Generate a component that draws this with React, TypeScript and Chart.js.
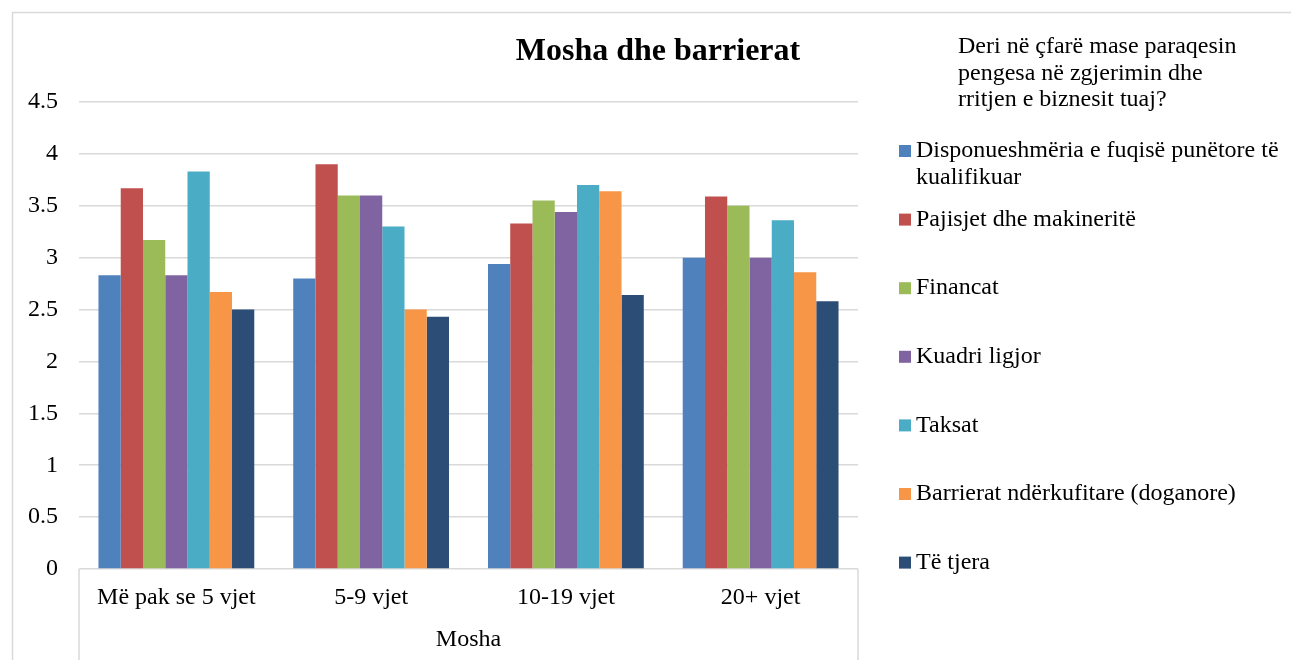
import React, { useEffect, useRef } from "react";
import { Chart, registerables } from "chart.js";

Chart.register(...registerables);

const categories = ["Më pak se 5 vjet", "5-9 vjet", "10-19 vjet", "20+ vjet"];
const seriesNames = [
  "Disponueshmëria e fuqisë punëtore të kualifikuar",
  "Pajisjet dhe makineritë",
  "Financat",
  "Kuadri ligjor",
  "Taksat",
  "Barrierat ndërkufitare (doganore)",
  "Të tjera",
];
const disponueshmeria = [2.83, 2.8, 2.94, 3.0];
const pajisjet = [3.67, 3.9, 3.33, 3.59];
const financat = [3.17, 3.6, 3.55, 3.5];
const kuadri = [2.83, 3.6, 3.44, 3.0];
const taksat = [3.83, 3.3, 3.7, 3.36];
const barrierat = [2.67, 2.5, 3.64, 2.86];
const teTjera = [2.5, 2.43, 2.64, 2.58];
const seriesValues = [disponueshmeria, pajisjet, financat, kuadri, taksat, barrierat, teTjera];
const seriesColors = ["#4F81BD", "#C0504D", "#9BBB59", "#8064A2", "#4BACC6", "#F79646", "#2C4D75"];
const yTicks = [0, 0.5, 1, 1.5, 2, 2.5, 3, 3.5, 4, 4.5];
const chartTitle = "Mosha dhe barrierat";
const axisTitle = "Mosha";
const legendTitle = ["Deri në çfarë mase paraqesin", "pengesa në zgjerimin dhe", "rritjen e biznesit tuaj?"];

const FONT = "'Liberation Serif', 'Times New Roman', serif";

const decorPlugin = {
  id: "decor",
  beforeDraw(chart: any) {
    const ctx = chart.ctx;
    ctx.save();
    ctx.strokeStyle = "#d9d9d9";
    ctx.lineWidth = 1.5;
    ctx.beginPath();
    ctx.moveTo(12.5, 700);
    ctx.lineTo(12.5, 12.5);
    ctx.lineTo(1400, 12.5);
    ctx.stroke();
    ctx.restore();
  },
  afterDraw(chart: any) {
    const ctx = chart.ctx;
    const area = chart.chartArea;
    ctx.save();
    ctx.strokeStyle = "#d9d9d9";
    ctx.lineWidth = 1.5;
    ctx.beginPath();
    ctx.moveTo(area.left, area.bottom);
    ctx.lineTo(area.left, chart.height);
    ctx.moveTo(area.right, area.bottom);
    ctx.lineTo(area.right, chart.height);
    ctx.stroke();

    ctx.fillStyle = "#000";
    ctx.font = `bold 32px ${FONT}`;
    ctx.textAlign = "center";
    ctx.textBaseline = "middle";
    ctx.fillText(chartTitle, 658, 52);

    ctx.font = `24px ${FONT}`;
    ctx.textAlign = "left";
    legendTitle.forEach((line, i) => {
      ctx.fillText(line, 958, 47 + i * 26.5);
    });

    const maxW = 372;
    chart.data.datasets.forEach((ds: any, i: number) => {
      const y = 151 + i * 68.6;
      ctx.fillStyle = ds.backgroundColor;
      ctx.fillRect(899, y - 6, 12, 12);
      ctx.fillStyle = "#000";
      const words = String(ds.label).split(" ");
      const lines: string[] = [];
      let cur = "";
      words.forEach((w) => {
        const test = cur ? cur + " " + w : w;
        if (ctx.measureText(test).width > maxW && cur) {
          lines.push(cur);
          cur = w;
        } else cur = test;
      });
      if (cur) lines.push(cur);
      lines.forEach((l, j) => ctx.fillText(l, 916, y + j * 27));
    });
    ctx.restore();
  },
};

export default function App() {
  const ref = useRef<HTMLCanvasElement | null>(null);
  useEffect(() => {
    if (!ref.current) return;
    const chart = new Chart(ref.current, {
      type: "bar",
      data: {
        labels: categories,
        datasets: seriesNames.map((name, i) => ({
          label: name,
          data: seriesValues[i],
          backgroundColor: seriesColors[i],
          borderWidth: 0,
          categoryPercentage: 0.8,
          barPercentage: 1,
        })),
      },
      options: {
        responsive: false,
        animation: false,
        layout: { padding: { left: 12, right: 433, top: 102, bottom: 0 } },
        plugins: {
          legend: { display: false },
          title: { display: false },
          tooltip: { enabled: false },
        },
        scales: {
          y: {
            min: 0,
            max: 4.5,
            afterFit: (s: any) => {
              s.width = 67;
            },
            afterBuildTicks: (s: any) => {
              s.ticks = yTicks.map((v) => ({ value: v }));
            },
            border: { display: false },
            grid: { color: "#d9d9d9", lineWidth: 1.5, drawTicks: false },
            ticks: {
              padding: 21,
              color: "#000",
              font: { family: FONT, size: 24 },
              callback: (v: any) => String(v),
            },
          },
          x: {
            afterFit: (s: any) => {
              s.height = 91;
            },
            border: { display: false },
            grid: { display: false, drawTicks: false },
            ticks: {
              padding: 14,
              color: "#000",
              font: { family: FONT, size: 24 },
              maxRotation: 0,
            },
            title: {
              display: true,
              text: axisTitle,
              color: "#000",
              font: { family: FONT, size: 24 },
              padding: { top: 0, bottom: 6 },
            },
          },
        },
      },
      plugins: [decorPlugin],
    });
    return () => chart.destroy();
  }, []);
  return (
    <div style={{ position: "fixed", left: 0, top: 0, width: 1291, height: 660, background: "#fff" }}>
      <canvas ref={ref} width={1291} height={660} />
    </div>
  );
}
